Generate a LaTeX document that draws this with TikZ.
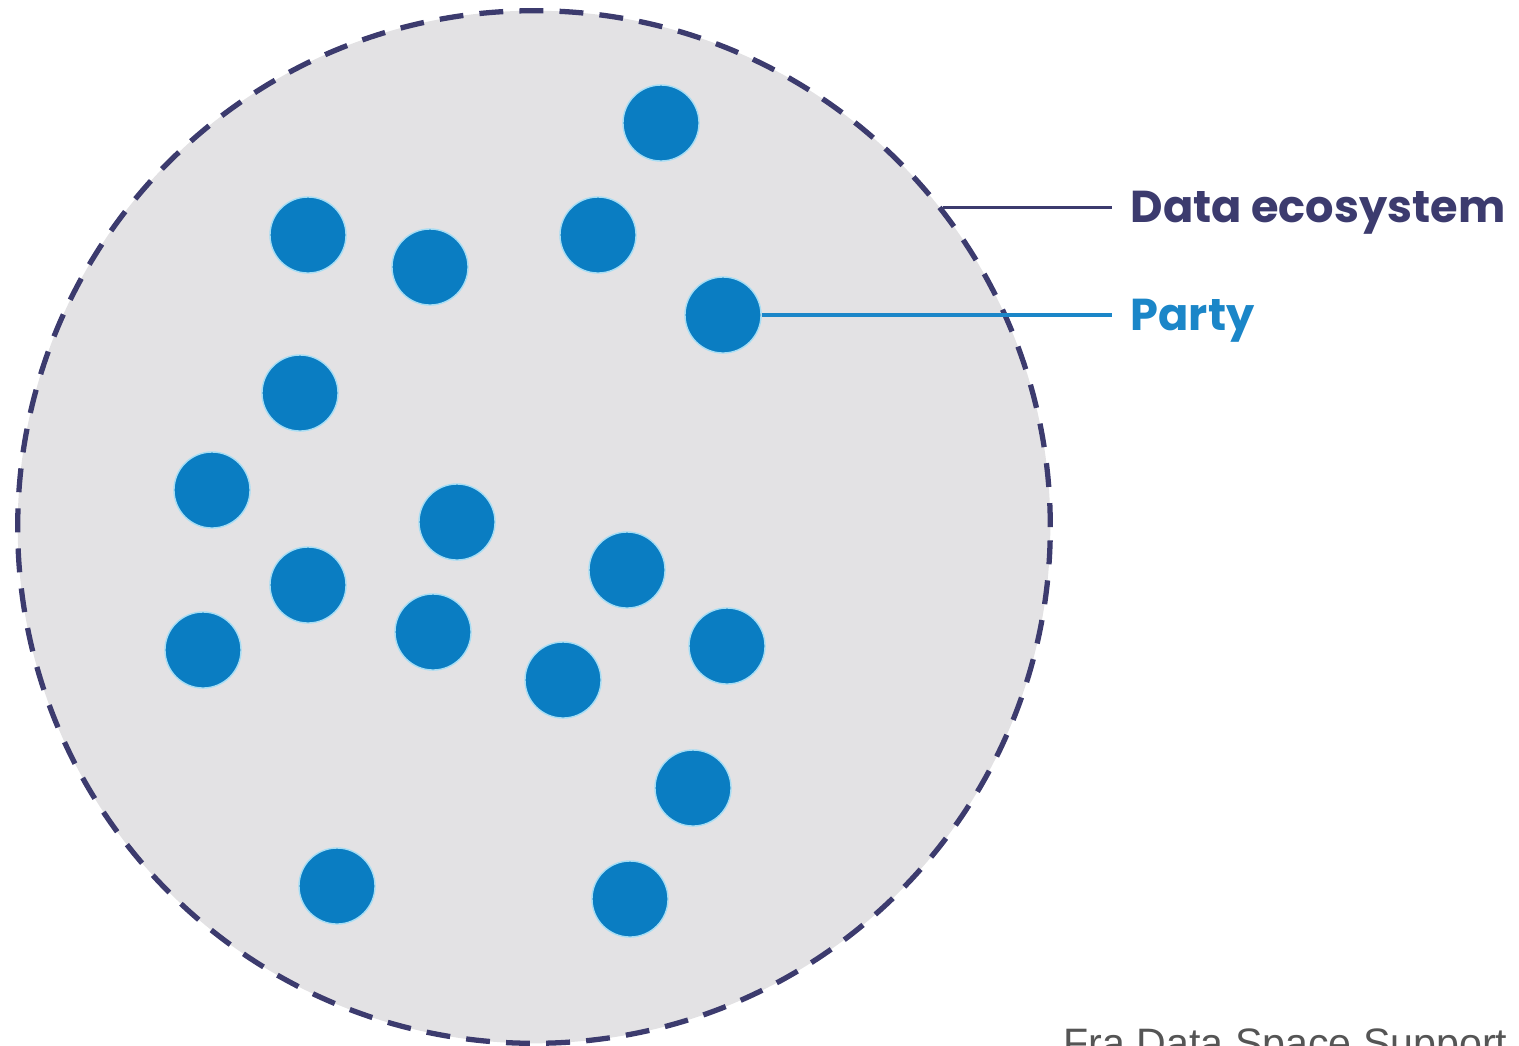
\documentclass[tikz,border=0pt]{standalone}
\usepackage{fontspec}
\setmainfont{Liberation Sans}
\newfontfamily\tagfont{Poppins}
\usepackage{tikz}
\usetikzlibrary{positioning}
\definecolor{ecoGray}{HTML}{E3E2E4}
\definecolor{ecoNavy}{HTML}{3C3B6E}
\definecolor{partyBlue}{HTML}{0A7DC2}
\definecolor{haloBlue}{HTML}{A6DDF4}
\definecolor{tagBlue}{HTML}{1B86C8}
\definecolor{noteGray}{HTML}{555555}

\begin{document}
\begin{tikzpicture}[x=0.01cm, y=-0.01cm,
    ecosys/.style={circle, inner sep=0, minimum size=10.32cm, fill=ecoGray, draw=ecoNavy,
        line width=1.5pt, dash pattern=on 6.8pt off 4.6pt},
    party/.style={circle, inner sep=0, minimum size=0.76cm, fill=partyBlue, draw=haloBlue, line width=0.4pt},
    tag/.style={anchor=base west, inner xsep=0.18cm, inner ysep=0,
        font=\tagfont\bfseries\fontsize{12.7}{15}\selectfont}]
    \useasboundingbox (0,0) rectangle (1519,1045);

    \node[ecosys] (eco) at (534,527) {};
    \foreach \n/\x/\y in {1/661/123, 2/308/235, 3/430/267, 4/598/235, 5/723/315, 6/300/393,
        7/212/490, 8/457/522, 9/308/585, 10/627/570, 11/203/650, 12/433/632,
        13/563/680, 14/727/646, 15/693/788, 16/337/886, 17/630/899}
        \node[party] (p\n) at (\x,\y) {};

    \node[tag, text=ecoNavy] (ecoTag) at (1112,222) {Data ecosystem};
    \node[tag, text=tagBlue] (partyTag) at (1112,330) {Party};
    \draw[ecoNavy, line width=0.9pt] (eco.38.5) -- (eco.38.5 -| ecoTag.west);
    \draw[tagBlue, line width=0.9pt] (p5.east) -- (p5.east -| partyTag.west);

    \node[anchor=base west, inner sep=0, text=noteGray, font=\fontsize{11.7}{14}\selectfont] (src) at (1063,1057) {Fra Data Space Support};
\end{tikzpicture}
\end{document}
